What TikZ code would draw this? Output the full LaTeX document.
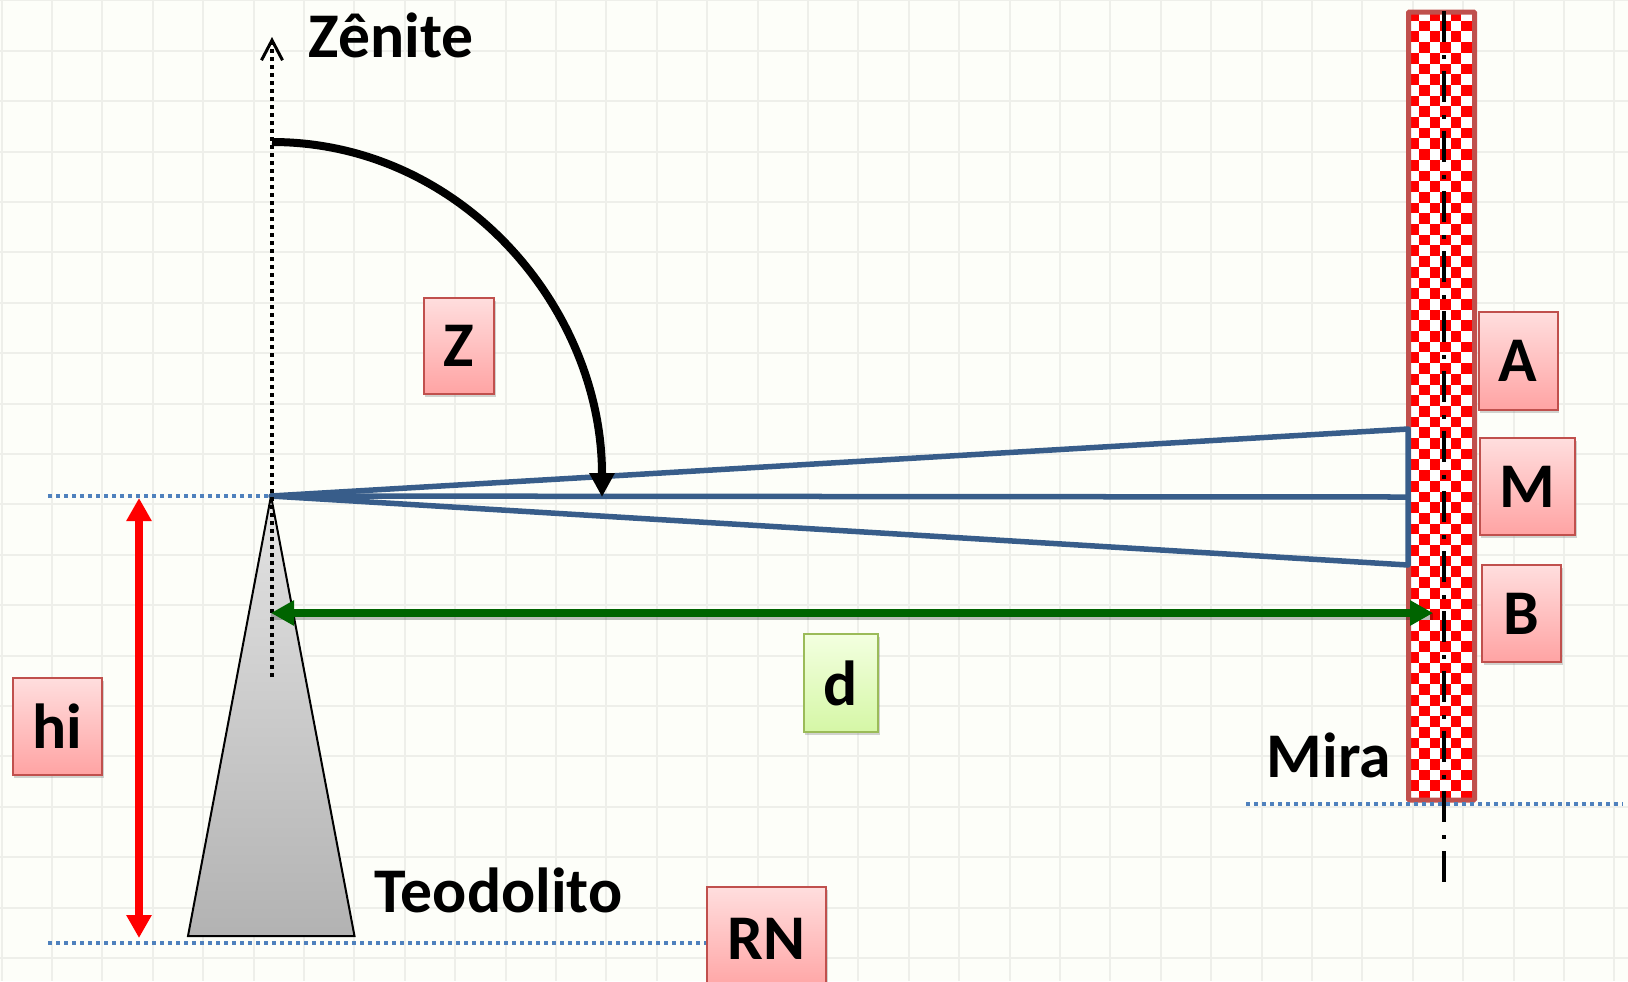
\documentclass[tikz,border=0pt]{standalone}
\usepackage{fontspec}
\setmainfont{Carlito}
\usetikzlibrary{arrows.meta,shadows}

\definecolor{fundo}{HTML}{FDFEF9}
\definecolor{grade}{HTML}{EEEFEA}
\definecolor{azul}{HTML}{385D8A}
\definecolor{pontos}{HTML}{4F81BD}
\definecolor{borda}{HTML}{C0504D}
\definecolor{verde}{HTML}{006400}
\definecolor{bordaverde}{HTML}{9BBB59}
\definecolor{verdeT}{HTML}{F3FFE0}
\definecolor{verdeB}{HTML}{D5F7A6}

\tikzset{
    rotulo/.style={font=\fontsize{18.1pt}{20pt}\selectfont\bfseries, inner sep=0pt},
    caixa/.style={rotulo, draw=borda, line width=0.02cm, top color=red!13, bottom color=red!36,
        drop shadow={shadow xshift=0.015cm, shadow yshift=-0.03cm, opacity=0.35}},
    caixaverde/.style={caixa, draw=bordaverde, top color=verdeT, bottom color=verdeB},
    pontilhado/.style={pontos, line width=0.04cm, dash pattern=on 0.04cm off 0.04cm},
    visada/.style={azul, line width=0.055cm, line join=round},
    seta/.style={{Triangle[length=0.23cm,width=0.24cm]}-{Triangle[length=0.23cm,width=0.24cm]}},
}

\begin{document}
\begin{tikzpicture}[x=0.01cm,y=-0.01cm]
    \useasboundingbox (0,0) rectangle (1628,981);
    \clip (0,0) rectangle (1628,981);
    \fill[fundo] (0,0) rectangle (1628,981);

    % grade
    \foreach \i in {0,...,32} \draw[grade, line width=0.02cm] ({1.6+50.4*\i},0) -- ({1.6+50.4*\i},981);
    \foreach \i in {0,...,19} \draw[grade, line width=0.02cm] (0,{0.4+50.4*\i}) -- (1628,{0.4+50.4*\i});

    \coordinate (apice) at (271,496);
    \coordinate (baseE) at (188,936);
    \coordinate (baseD) at (354.5,936);
    \coordinate (nivelE) at (48,496);
    \coordinate (refE) at (48,943);
    \coordinate (alturaT) at (139,498);
    \coordinate (alturaB) at (139,938);
    \coordinate (zenT) at (272,37);
    \coordinate (zenB) at (272,677);
    \coordinate (arcoI) at (272,142);
    \coordinate (arcoF) at (602,497);
    \coordinate (distE) at (271,613);
    \coordinate (distD) at (1433,613);
    \coordinate (miraA) at (1408,429);
    \coordinate (miraM) at (1408,497);
    \coordinate (miraB) at (1408,565);
    \coordinate (pisoE) at (1246,803.7);
    \coordinate (pisoD) at (1623,803.7);
    \coordinate (eixoT) at (1444,11);
    \coordinate (eixoB) at (1444,882);

    % teodolito
    \shade[top color=black!11, bottom color=black!30, draw=black, line width=0.02cm] (apice) -- (baseD) -- (baseE) -- cycle;

    % mira
    \begin{scope}
        \clip (1408.5,12) rectangle (1474.5,800);
        \fill[white] (1408.5,12) rectangle (1474.5,800);
        \foreach \l in {0,...,74} \foreach \c in {0,...,6} {
            \pgfmathparse{int(mod(\l+\c,2))}
            \ifnum\pgfmathresult=0
                \fill[red] ({1408.4+10.6*\c},{10+10.7*\l}) rectangle ++(10.6,10.7);
            \fi
        }
    \end{scope}
    \draw[borda, line width=0.05cm, rounded corners=0.01cm] (1408.5,12) rectangle (1474.5,800);
    \draw[black, line width=0.04cm, dash pattern=on 0.31cm off 0.13cm on 0.04cm off 0.12cm] (eixoT) -- (eixoB);

    \node[caixa, minimum width=1.19cm, minimum height=1.04cm] (RN) at (766.5,939) {RN};

    % linhas de nivel
    \draw[pontilhado] (nivelE) -- (apice);
    \draw[pontilhado] (refE) -- (RN.west |- refE);
    \draw[pontilhado] (pisoE) -- (pisoD);

    % visadas
    \draw[visada] (apice) -- (miraA) -- (miraB) -- cycle;
    \draw[visada] (apice) -- (miraM);

    \draw[black, line width=0.033cm, dash pattern=on 0.04cm off 0.04cm, -{Straight Barb[length=0.2cm,width=0.21cm,line width=0.03cm]}] (zenB) -- (zenT);
    \draw[black, line width=0.08cm, -{Triangle[length=0.24cm,width=0.24cm]}] (arcoI) to[out=0,in=90] (arcoF);
    \draw[red, line width=0.08cm, seta] (alturaT) -- (alturaB);
    \draw[black, opacity=0.25, line width=0.07cm] ([yshift=-0.03cm]distE) -- ([yshift=-0.03cm]distD);
    \draw[verde, line width=0.08cm, seta] (distE) -- (distD);

    % caixas
    \node[caixa, minimum width=0.895cm, minimum height=0.97cm] (hi) at (57.7,726.5) {hi};
    \node[caixa, minimum width=0.705cm, minimum height=0.965cm] (Z) at (458.8,346.2) {Z};
    \node[caixa, minimum width=0.79cm, minimum height=0.975cm] (A) at (1518,361.2) {A};
    \node[caixa, minimum width=0.955cm, minimum height=0.97cm] (M) at (1527.3,486.5) {M};
    \node[caixa, minimum width=0.79cm, minimum height=0.97cm] (B) at (1521.5,613.5) {B};
    \node[caixaverde, minimum width=0.745cm, minimum height=0.98cm] (d) at (840.8,683) {d};

    % textos
    \node[rotulo, anchor=base west] (zenite) at (308,57) {Zênite};
    \node[rotulo, anchor=base west] (teodolito) at (374,912) {Teodolito};
    \node[rotulo, anchor=base west] (mira) at (1266,777) {Mira};
\end{tikzpicture}
\end{document}
